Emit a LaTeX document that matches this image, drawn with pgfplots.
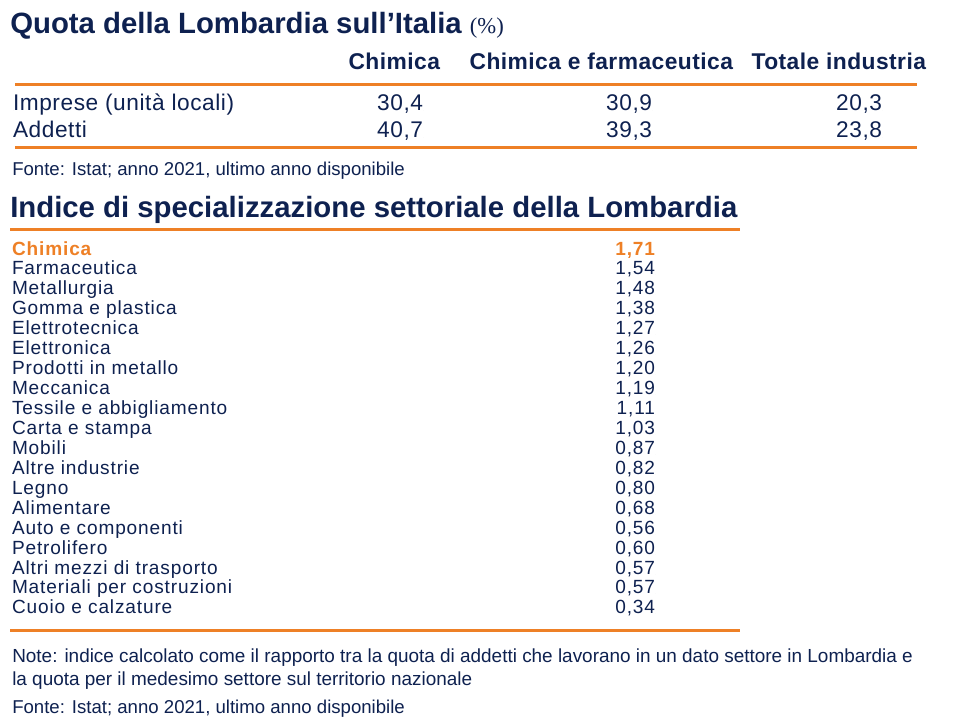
\documentclass[border=0pt]{standalone}
\usepackage{fontspec}
\setmainfont{Liberation Sans}
\newfontfamily\serifTNR{Liberation Serif}
\newfontfamily\listfont[LetterSpace=4.5]{Liberation Sans}
\newfontfamily\rowfont[LetterSpace=2.5]{Liberation Sans}
\newfontfamily\headfont[LetterSpace=2.0]{Liberation Sans}
\usepackage{pgfplots}
\pgfplotsset{compat=1.18}
\usepackage{pgfplotstable}
\definecolor{navy}{RGB}{14,33,80}
\definecolor{bporange}{RGB}{238,128,38}

\pgfplotstableread[col sep=comma]{
name,chim,chimfarm,tot
Imprese (unità locali),30.4,30.9,20.3
Addetti,40.7,39.3,23.8
}\quota

\pgfplotstableread[col sep=comma]{
x,name
440,Chimica
733,Chimica e farmaceutica
926,Totale industria
}\heads

\pgfplotstableread[col sep=comma]{
name,value
Chimica,1.71
Farmaceutica,1.54
Metallurgia,1.48
Gomma e plastica,1.38
Elettrotecnica,1.27
Elettronica,1.26
Prodotti in metallo,1.20
Meccanica,1.19
Tessile e abbigliamento,1.11
Carta e stampa,1.03
Mobili,0.87
Altre industrie,0.82
Legno,0.80
Alimentare,0.68
Auto e componenti,0.56
Petrolifero,0.60
Altri mezzi di trasporto,0.57
Materiali per costruzioni,0.57
Cuoio e calzature,0.34
}\indice

\pgfplotsset{
  textplot/.style={only marks, mark=*, mark size=0pt,
    mark options={draw=none,fill=none}, nodes near coords,
    every node near coord/.append style={inner sep=0pt, outer sep=0pt, text=navy, #1}},
}

\begin{document}
\begin{tikzpicture}
\begin{axis}[
  width=720bp, height=540bp, scale only axis,
  xmin=0, xmax=960, ymin=0, ymax=720, y dir=reverse,
  hide axis, clip=false,
  /pgf/number format/assume math mode=true,
]
\path[fill=white] (rel axis cs:0,0) rectangle (rel axis cs:1,1);

% ---- Title 1
\node[anchor=base west, inner sep=0pt, text=navy,
  font=\fontsize{22bp}{26bp}\selectfont\bfseries]
  at (axis cs:10,33) {Quota della Lombardia sull’Italia {\mdseries\serifTNR\fontsize{17bp}{20bp}\selectfont(\%)}};

% ---- Header
\addplot[textplot={anchor=base east, font=\headfont\bfseries\fontsize{17.1bp}{20bp}\selectfont},
  point meta=explicit symbolic] table[x=x, y expr=69, meta=name] {\heads};

\addplot[bporange, line width=2.25bp] coordinates {(15,84) (917,84)};
\addplot[bporange, line width=2.25bp] coordinates {(15,147) (917,147)};

% ---- Rows
\addplot[textplot={anchor=base west, font=\rowfont\fontsize{17bp}{20bp}\selectfont},
  point meta=explicit symbolic] table[x expr=13, y expr=110+27*\coordindex, meta=name] {\quota};
\addplot[textplot={anchor=base east, font=\rowfont\fontsize{17bp}{20bp}\selectfont},
  point meta=explicit,
  nodes near coords={\pgfmathprintnumber[fixed,fixed zerofill,precision=1,use comma]{\pgfplotspointmeta}}]
  table[x expr=423, y expr=110+27*\coordindex, meta=chim] {\quota};
\addplot[textplot={anchor=base east, font=\rowfont\fontsize{17bp}{20bp}\selectfont},
  point meta=explicit,
  nodes near coords={\pgfmathprintnumber[fixed,fixed zerofill,precision=1,use comma]{\pgfplotspointmeta}}]
  table[x expr=652, y expr=110+27*\coordindex, meta=chimfarm] {\quota};
\addplot[textplot={anchor=base east, font=\rowfont\fontsize{17bp}{20bp}\selectfont},
  point meta=explicit,
  nodes near coords={\pgfmathprintnumber[fixed,fixed zerofill,precision=1,use comma]{\pgfplotspointmeta}}]
  table[x expr=882, y expr=110+27*\coordindex, meta=tot] {\quota};

\node[anchor=base west, inner sep=0pt, text=navy, font=\fontsize{13.95bp}{17bp}\selectfont]
  at (axis cs:12,175) {Fonte: Istat; anno 2021, ultimo anno disponibile};

% ---- Title 2
\node[anchor=base west, inner sep=0pt, text=navy,
  font=\fontsize{22bp}{26bp}\selectfont\bfseries]
  at (axis cs:10,217) {Indice di specializzazione settoriale della Lombardia};
\addplot[bporange, line width=2.25bp] coordinates {(10,229) (740,229)};

% ---- List
\addplot[textplot={anchor=base west, text=bporange, font=\listfont\bfseries\fontsize{14.3bp}{16bp}\selectfont},
  point meta=explicit symbolic, restrict expr to domain={\coordindex}{0:0}]
  table[x expr=12, y expr=255+19.94*\coordindex, meta=name] {\indice};
\addplot[textplot={anchor=base east, text=bporange, font=\listfont\bfseries\fontsize{14.3bp}{16bp}\selectfont},
  point meta=explicit, restrict expr to domain={\coordindex}{0:0},
  nodes near coords={\pgfmathprintnumber[fixed,fixed zerofill,precision=2,use comma]{\pgfplotspointmeta}}]
  table[x expr=655, y expr=255+19.94*\coordindex, meta=value] {\indice};
\addplot[textplot={anchor=base west, font=\listfont\fontsize{14.3bp}{16bp}\selectfont},
  point meta=explicit symbolic, restrict expr to domain={\coordindex}{1:18}]
  table[x expr=12, y expr=255+19.94*\coordindex, meta=name] {\indice};
\addplot[textplot={anchor=base east, font=\listfont\fontsize{14.3bp}{16bp}\selectfont},
  point meta=explicit, restrict expr to domain={\coordindex}{1:18},
  nodes near coords={\pgfmathprintnumber[fixed,fixed zerofill,precision=2,use comma]{\pgfplotspointmeta}}]
  table[x expr=655, y expr=255+19.94*\coordindex, meta=value] {\indice};

\addplot[bporange, line width=2.25bp] coordinates {(10,630) (740,630)};

% ---- Notes
\node[anchor=base west, inner sep=0pt, text=navy, font=\fontsize{14.2bp}{17bp}\selectfont]
  at (axis cs:12,662) {Note: indice calcolato come il rapporto tra la quota di addetti che lavorano in un dato settore in Lombardia e};
\node[anchor=base west, inner sep=0pt, text=navy, font=\fontsize{14.2bp}{17bp}\selectfont]
  at (axis cs:12,685) {la quota per il medesimo settore sul territorio nazionale};
\node[anchor=base west, inner sep=0pt, text=navy, font=\fontsize{13.95bp}{17bp}\selectfont]
  at (axis cs:12,713) {Fonte: Istat; anno 2021, ultimo anno disponibile};
\end{axis}
\end{tikzpicture}
\end{document}
